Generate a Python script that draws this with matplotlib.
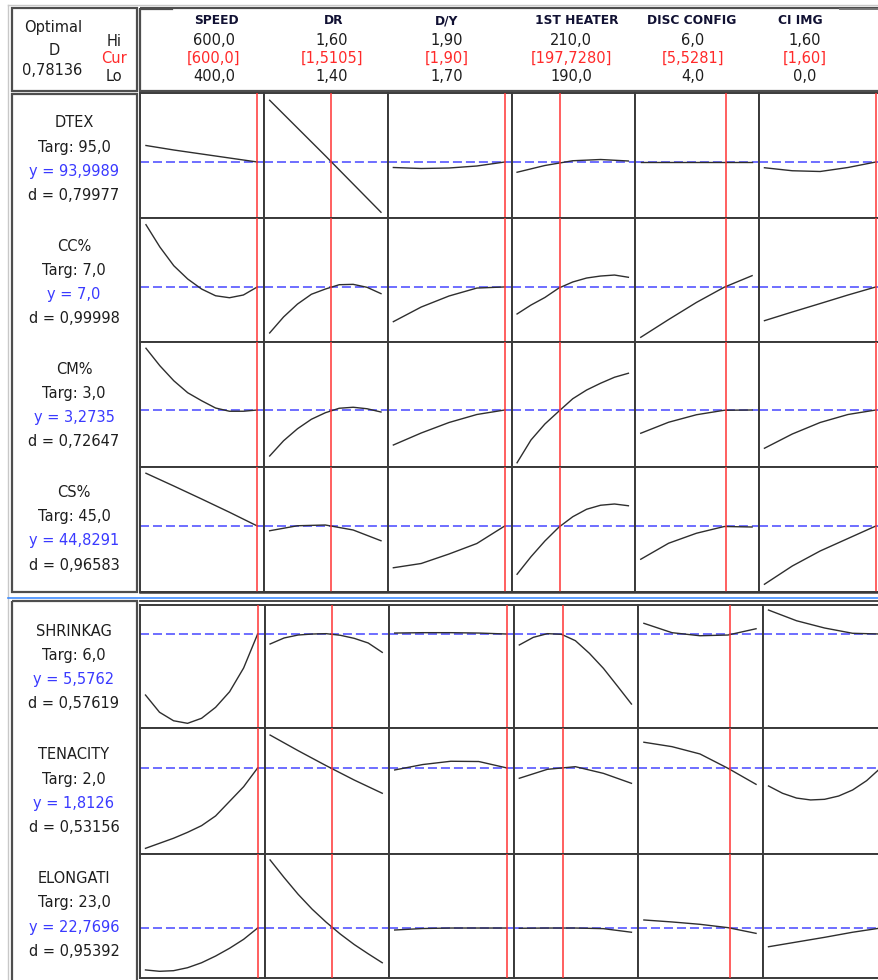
import numpy as np
import matplotlib
matplotlib.use('Agg')
import matplotlib.pyplot as plt
from matplotlib.patches import Rectangle

W, H = 879, 980

# ---------------- data ----------------
factors = ['SPEED', 'DR', 'D/Y', '1ST HEATER', 'DISC CONFIG', 'CI IMG']
hi_vals = [600.0, 1.60, 1.90, 210.0, 6.0, 1.60]
lo_vals = [400.0, 1.40, 1.70, 190.0, 4.0, 0.0]
cur_vals = [600.0, 1.5105, 1.90, 197.7280, 5.5281, 1.60]
hi_labels = ['600,0', '1,60', '1,90', '210,0', '6,0', '1,60']
cur_labels = ['[600,0]', '[1,5105]', '[1,90]', '[197,7280]', '[5,5281]', '[1,60]']
lo_labels = ['400,0', '1,40', '1,70', '190,0', '4,0', '0,0']
composite_D = '0,78136'

responses = ['DTEX', 'CC%', 'CM%', 'CS%', 'SHRINKAG', 'TENACITY', 'ELONGATI']
targets = ['95,0', '7,0', '3,0', '45,0', '6,0', '2,0', '23,0']
y_pred = ['93,9989', '7,0', '3,2735', '44,8291', '5,5762', '1,8126', '22,7696']
desirability = ['0,79977', '0,99998', '0,72647', '0,96583', '0,57619', '0,53156', '0,95392']

# predicted response at current settings, on each row's scaled (0-100) axis
y_cur_scaled = [44.8, 44.4, 45.6, 52.8, 76.4, 68.3, 40.3]

# response traces (scaled 0-100), evenly spaced from Lo to Hi of each factor
dtex = [
    [58.0, 54.4, 51.2, 48.0, 44.8],
    [94.2, 72.0, 49.8, 27.2, 4.6],
    [40.4, 39.6, 40.0, 41.6, 44.8],
    [36.6, 42.0, 45.8, 46.8, 45.6],
    [44.8, 44.8, 44.8, 44.8, 44.8],
    [40.2, 37.8, 37.2, 40.4, 44.8],
]
cc = [
    [94.6, 76.6, 61.5, 50.8, 42.7, 37.3, 35.7, 37.9, 44.4],
    [7.3, 20.2, 30.6, 38.5, 42.7, 46.2, 46.5, 44.1, 39.0],
    [16.4, 28.2, 37.1, 43.5, 44.4],
    [22.6, 29.8, 35.9, 43.5, 48.4, 51.6, 53.2, 54.0, 52.2],
    [3.8, 18.1, 31.9, 44.2, 53.5],
    [17.2, 24.2, 31.0, 37.9, 44.4],
]
cm = [
    [95.0, 81.0, 69.0, 59.4, 53.0, 47.2, 44.6, 44.6, 45.6],
    [8.8, 21.0, 30.6, 38.2, 43.4, 47.0, 47.8, 46.6, 44.0],
    [17.6, 27.2, 35.6, 42.0, 45.6],
    [3.4, 21.6, 34.4, 44.6, 54.6, 61.6, 67.0, 71.8, 75.0],
    [27.0, 35.8, 41.8, 45.4, 45.6],
    [15.0, 26.4, 35.6, 42.0, 45.6],
]
cs = [
    [95.0, 84.8, 74.4, 63.8, 52.8],
    [49.0, 53.0, 53.6, 49.6, 41.0],
    [19.4, 22.8, 30.4, 38.8, 52.8],
    [14.2, 28.2, 40.8, 51.8, 60.2, 66.2, 69.4, 70.4, 69.0],
    [26.2, 39.0, 47.0, 52.4, 52.0],
    [6.2, 20.8, 32.8, 42.8, 52.8],
]
shrinkag = [
    [26.8, 12.8, 5.9, 3.8, 7.9, 16.8, 29.5, 48.8, 76.4],
    [68.3, 73.2, 75.6, 76.4, 76.7, 75.4, 72.9, 69.1, 61.5],
    [77.2, 77.5, 77.5, 77.2, 76.4],
    [67.5, 73.7, 76.7, 76.2, 71.0, 60.7, 48.5, 34.1, 19.5],
    [85.1, 77.5, 75.0, 75.6, 80.7],
    [95.9, 87.2, 81.3, 77.0, 76.4],
]
tenacity = [
    [4.5, 8.5, 12.5, 17.2, 22.5, 30.2, 41.8, 53.4, 68.3],
    [94.4, 82.0, 70.1, 58.7, 48.2],
    [66.7, 71.0, 73.6, 73.4, 68.3],
    [60.1, 67.2, 69.3, 64.0, 56.1],
    [88.7, 85.2, 79.4, 68.0, 55.3],
    [54.0, 48.2, 44.4, 42.9, 43.4, 46.0, 50.8, 58.2, 68.3],
]
elongati = [
    [6.5, 5.4, 5.9, 8.3, 12.3, 17.7, 24.0, 31.2, 40.3],
    [95.2, 81.0, 67.5, 55.5, 45.0, 35.5, 27.0, 19.5, 12.3],
    [38.7, 39.9, 40.3, 40.3, 40.3],
    [40.1, 40.3, 40.3, 39.8, 36.9],
    [46.8, 45.2, 43.3, 40.6, 36.0],
    [25.2, 29.0, 32.8, 36.9, 40.3],
]
traces = [dtex, cc, cm, cs, shrinkag, tenacity, elongati]

# ---------------- style / layout ----------------
GRID = '#3a3a3a'
CURVE = '#2e2e2e'
RED = '#ff3434'
BLUE = '#4646ff'
TXTBLUE = '#3a3aff'
TXTRED = '#ff2a2a'
FONT = 'DejaVu Sans'

row_spans = [(93, 218), (218, 342), (342, 467), (467, 592),
             (605, 728), (728, 854), (854, 978)]
label_first = [122, 245.3, 368.3, 491.7, 630.5, 754, 877.8]

fig = plt.figure(figsize=(W / 100, H / 100), dpi=100)
fig.patch.set_facecolor('white')

for i, (top, bot) in enumerate(row_spans):
    if i < 4:
        x0, cw = 140.5, 123.7
    else:
        x0, cw = 140.0, 124.6
    for j in range(6):
        left = x0 + j * cw
        ax = fig.add_axes([left / W, 1 - bot / H, cw / W, (bot - top) / H])
        lo, hi = lo_vals[j], hi_vals[j]
        span = hi - lo
        ax.set_xlim(lo - 0.049 * span, hi + 0.062 * span)
        ax.set_ylim(0, 100)
        vals = traces[i][j]
        xs = np.linspace(lo, hi, len(vals))
        ax.axhline(y_cur_scaled[i], color=BLUE, lw=1.1,
                   linestyle=(0, (5.9, 2.6)), zorder=2)
        ax.plot(xs, vals, color=CURVE, lw=1.0, zorder=3,
                solid_joinstyle='round')
        ax.axvline(cur_vals[j], color=RED, lw=1.1, zorder=4)
        ax.set_xticks([])
        ax.set_yticks([])
        for s in ax.spines.values():
            s.set_color(GRID)
            s.set_linewidth(1.4)

# overlay for frames and text (pixel coordinates)
ov = fig.add_axes([0, 0, 1, 1], zorder=10)
ov.set_xlim(0, W)
ov.set_ylim(H, 0)
ov.axis('off')
ov.patch.set_alpha(0)


def txt(x, yc, s, size=10.5, color='#1e1e1e', weight='normal'):
    em = size * 100 / 72
    ov.text(x, yc + 0.365 * em, s, ha='center', va='baseline', fontsize=size,
            color=color, fontweight=weight, family=FONT)


BOX = '#4e4e4e'
# outer light frame
ov.plot([8, 879], [5, 5], color='#c8c8c8', lw=1.0)
ov.plot([8, 8], [5, 980], color='#c8c8c8', lw=1.0)
# header boxes
ov.add_patch(Rectangle((12, 8.5), 125.5, 83, fill=False, ec=BOX, lw=1.6))
ov.add_patch(Rectangle((140.5, 8.5), 760, 83, fill=False, ec=BOX, lw=1.6))
ov.plot([141, 172], [9.5, 9.5], color=BOX, lw=1.6)
ov.plot([840, 879], [9.0, 9.0], color='#777777', lw=1.4)
# label boxes
ov.add_patch(Rectangle((12, 94.5), 125.5, 497.5, fill=False, ec=BOX, lw=1.6))
ov.add_patch(Rectangle((12, 600.5), 125.5, 400, fill=False, ec=BOX, lw=1.6))
# section separator
ov.plot([8, 879], [598, 598], color='#3d8bff', lw=1.2)
ov.plot([140, 879], [600.8, 600.8], color=GRID, lw=1.3)
ov.plot([140, 879], [592, 592], color=GRID, lw=1.8)

# header left box
txt(53, 26.5, 'Optimal')
txt(54, 49.5, 'D')
txt(52.5, 69.5, composite_D)
txt(114, 41, 'Hi')
txt(114, 58, 'Cur', color=TXTRED)
txt(114, 75.5, 'Lo')

# header columns
name_x = [216, 334, 447, 577, 692, 800]
val_x = [214, 332, 447, 571, 693, 805]
for j in range(6):
    txt(name_x[j], 20, factors[j], size=8.8, color='#111133', weight='bold')
    txt(val_x[j], 40, hi_labels[j])
    txt(val_x[j], 57, cur_labels[j], color=TXTRED)
    txt(val_x[j], 75.5, lo_labels[j])

# response labels
for i in range(7):
    y0 = label_first[i]
    txt(74, y0, responses[i])
    txt(74, y0 + 24.2, 'Targ: ' + targets[i])
    txt(74, y0 + 48.4, 'y = ' + y_pred[i], color=TXTBLUE)
    txt(74, y0 + 72.6, 'd = ' + desirability[i])

fig.savefig('out.png', dpi=100, facecolor='white')
